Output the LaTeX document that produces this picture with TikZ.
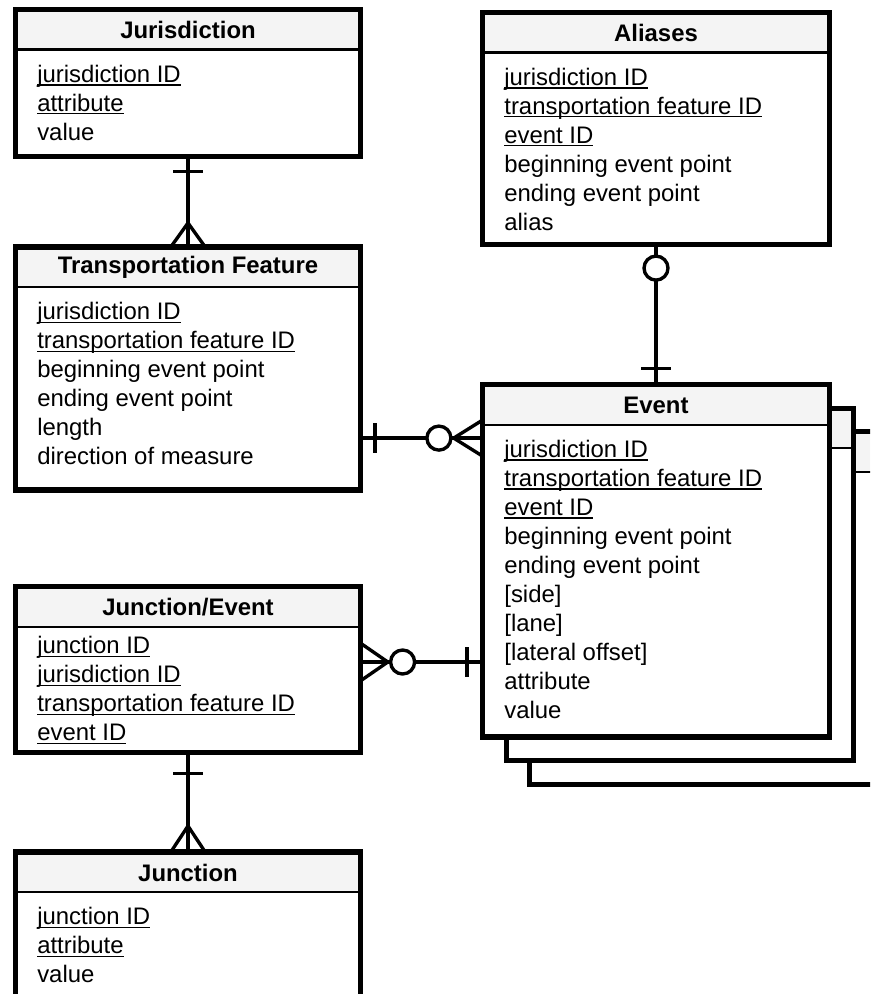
\documentclass[tikz,border=0pt]{standalone}
\usepackage{fontspec}
\setmainfont{Liberation Sans}
\usetikzlibrary{positioning, calc}
\definecolor{HG}{RGB}{244,244,244}
\newcommand{\pk}[1]{\setbox0\hbox{#1}\rlap{\rule[-2.3pt]{\wd0}{0.9pt}}\box0}

\begin{document}
\begin{tikzpicture}[
  ent/.style={draw, fill=white, line width=3.6pt, inner sep=0pt, outer sep=0pt,
    path picture={
      \fill[HG] (path picture bounding box.north west) rectangle ([yshift=-1cm]path picture bounding box.north east);
      \draw[line width=1.5pt] ([yshift=-1cm]path picture bounding box.north west) -- ([yshift=-1cm]path picture bounding box.north east);}},
  title/.style={font=\fontsize{17}{20.6}\selectfont\bfseries},
  attrs/.style={anchor=north west, align=left, inner xsep=0.54cm, inner ysep=0.38cm,
                font=\fontsize{17}{20.6}\selectfont},
  rel/.style={line width=2.4pt},
  ring/.style={circle, draw, fill=white, line width=2.4pt, minimum size=0.6cm, inner sep=0pt}
]
\clip (0,0) rectangle (21.75,-24.85);

% Jurisdiction
\node[ent, minimum width=8.63cm, minimum height=3.675cm] (jur) at (4.70,-2.075) {};
\node[title] (jurT) at ([yshift=-0.52cm]jur.north) {Jurisdiction};
\node[attrs] (jurA) at ([yshift=-1cm]jur.north west)
  {\pk{jurisdiction ID}\\\pk{attribute}\\value};

% Transportation Feature
\node[ent, minimum width=8.63cm, minimum height=6.075cm] (tf) at (4.70,-9.2125) {};
\node[title] (tfT) at ([yshift=-0.52cm]tf.north) {Transportation Feature};
\node[attrs] (tfA) at ([yshift=-1cm]tf.north west)
  {\pk{jurisdiction ID}\\\pk{transportation feature ID}\\beginning event point\\
   ending event point\\length\\direction of measure};

% Junction/Event
\node[ent, minimum width=8.63cm, minimum height=4.15cm] (je) at (4.70,-16.74) {};
\node[title] (jeT) at ([yshift=-0.52cm]je.north) {Junction/Event};
\node[attrs] (jeA) at ([yshift=-0.86cm]je.north west)
  {\pk{junction ID}\\\pk{jurisdiction ID}\\\pk{transportation feature ID}\\\pk{event ID}};

% Junction
\node[ent, minimum width=8.63cm, minimum height=4.0cm] (jn) at (4.70,-23.3) {};
\node[title] (jnT) at ([yshift=-0.52cm]jn.north) {Junction};
\node[attrs] (jnA) at ([yshift=-1cm]jn.north west)
  {\pk{junction ID}\\\pk{attribute}\\value};

% Aliases
\node[ent, minimum width=8.675cm, minimum height=5.8cm] (al) at (16.4,-3.2125) {};
\node[title] (alT) at ([yshift=-0.52cm]al.north) {Aliases};
\node[attrs] (alA) at ([yshift=-1cm]al.north west)
  {\pk{jurisdiction ID}\\\pk{transportation feature ID}\\\pk{event ID}\\
   beginning event point\\ending event point\\alias};

% Event (stacked)
\node[ent, minimum width=8.675cm, minimum height=8.81cm] (ev3) at (17.58,-15.2) {};
\node[ent, minimum width=8.675cm, minimum height=8.81cm] (ev2) at (16.99,-14.61) {};
\node[ent, minimum width=8.675cm, minimum height=8.81cm] (ev) at (16.4,-14.02) {};
\node[title] (evT) at ([yshift=-0.52cm]ev.north) {Event};
\node[attrs] (evA) at ([yshift=-1cm]ev.north west)
  {\pk{jurisdiction ID}\\\pk{transportation feature ID}\\\pk{event ID}\\
   beginning event point\\ending event point\\{}[side]\\{}[lane]\\{}[lateral offset]\\
   attribute\\value};

% Jurisdiction -- Transportation Feature
\draw[rel] (jur.south) -- (tf.north);
\draw[rel] ([xshift=-0.375cm,yshift=-0.375cm]jur.south) -- ++(0.75,0);
\draw[rel] ([xshift=-0.43cm]tf.north) -- ([yshift=0.6cm]tf.north) -- ([xshift=0.43cm]tf.north);

% Aliases -- Event
\draw[rel] (al.south) -- (ev.north);
\node[ring] (alR) at ([yshift=-0.59cm]al.south) {};
\draw[rel] ([xshift=-0.375cm,yshift=0.4cm]ev.north) -- ++(0.75,0);

% Transportation Feature -- Event
\coordinate (tfE) at ([yshift=-1.74cm]tf.east);
\coordinate (evW) at (tfE -| ev.west);
\draw[rel] (tfE) -- (evW);
\draw[rel] ([xshift=0.36cm,yshift=0.375cm]tfE) -- ++(0,-0.75);
\node[ring] (tfR) at ([xshift=-1.09cm]evW) {};
\draw[rel] ([yshift=0.45cm]evW) -- ([xshift=-0.72cm]evW) -- ([yshift=-0.45cm]evW);

% Junction/Event -- Event
\coordinate (jeE) at ([yshift=0.19cm]je.east);
\coordinate (evJ) at (jeE -| ev.west);
\draw[rel] (jeE) -- (evJ);
\draw[rel] ([yshift=0.47cm]jeE) -- ([xshift=0.68cm]jeE) -- ([yshift=-0.47cm]jeE);
\node[ring] (jeR) at ([xshift=1.05cm]jeE) {};
\draw[rel] ([xshift=-0.39cm,yshift=0.375cm]evJ) -- ++(0,-0.75);

% Junction/Event -- Junction
\draw[rel] (je.south) -- (jn.north);
\draw[rel] ([xshift=-0.375cm,yshift=-0.52cm]je.south) -- ++(0.75,0);
\draw[rel] ([xshift=-0.43cm]jn.north) -- ([yshift=0.65cm]jn.north) -- ([xshift=0.43cm]jn.north);
\end{tikzpicture}
\end{document}
